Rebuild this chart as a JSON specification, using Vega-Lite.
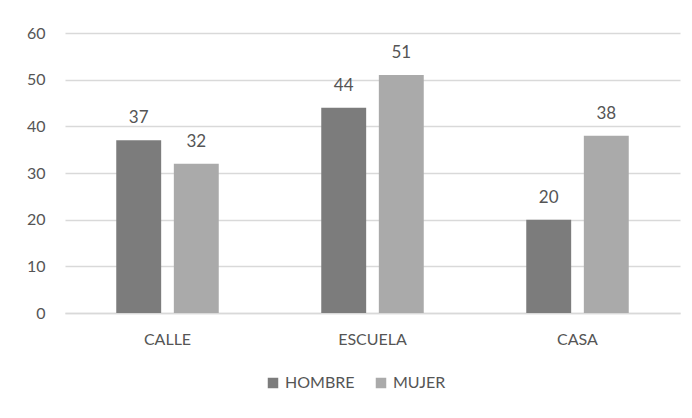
{
  "$schema": "https://vega.github.io/schema/vega-lite/v6.json",
  "autosize": {"type": "none"},
  "width": 615,
  "height": 280,
  "padding": {"left": 65, "top": 33, "right": 12, "bottom": 105},
  "background": "white",
  "config": {
    "view": {"stroke": null},
    "font": "Lato",
    "axis": {"labelFont": "Lato", "labelColor": "#555555", "labelFontSize": 16},
    "legend": {"labelFont": "Lato", "labelColor": "#555555", "labelFontSize": 16}
  },
  "data": {
    "values": [
      {"lugar": "CALLE", "sexo": "HOMBRE", "valor": 37},
      {"lugar": "CALLE", "sexo": "MUJER", "valor": 32},
      {"lugar": "ESCUELA", "sexo": "HOMBRE", "valor": 44},
      {"lugar": "ESCUELA", "sexo": "MUJER", "valor": 51},
      {"lugar": "CASA", "sexo": "HOMBRE", "valor": 20},
      {"lugar": "CASA", "sexo": "MUJER", "valor": 38}
    ]
  },
  "encoding": {
    "x": {
      "field": "lugar", "type": "nominal", "sort": ["CALLE", "ESCUELA", "CASA"],
      "scale": {"paddingInner": 0.5, "paddingOuter": 0.25},
      "axis": {"title": null, "labelAngle": 0, "ticks": false, "domainColor": "#d9d9d9", "domainWidth": 1.5, "labelPadding": 18}
    },
    "xOffset": {"field": "sexo", "type": "nominal", "scale": {"paddingInner": 0.22, "paddingOuter": 0}},
    "y": {
      "field": "valor", "type": "quantitative",
      "scale": {"domain": [0, 60]},
      "axis": {"title": null, "values": [0, 10, 20, 30, 40, 50, 60], "domain": false, "ticks": false, "gridColor": "#d9d9d9", "gridWidth": 1.5, "labelPadding": 20}
    }
  },
  "layer": [
    {
      "mark": {"type": "bar"},
      "encoding": {
        "color": {
          "field": "sexo", "type": "nominal",
          "scale": {"domain": ["HOMBRE", "MUJER"], "range": ["#7c7c7c", "#aaaaaa"]},
          "legend": {"title": null, "orient": "none", "direction": "horizontal", "legendX": 200, "legendY": 342, "symbolType": "square", "symbolSize": 110, "columnPadding": 18, "labelOffset": 4}
        }
      }
    },
    {
      "mark": {"type": "text", "baseline": "bottom", "dy": -13, "fontSize": 17, "color": "#555555", "font": "Lato"},
      "encoding": {"text": {"field": "valor", "type": "quantitative"}}
    }
  ]
}
